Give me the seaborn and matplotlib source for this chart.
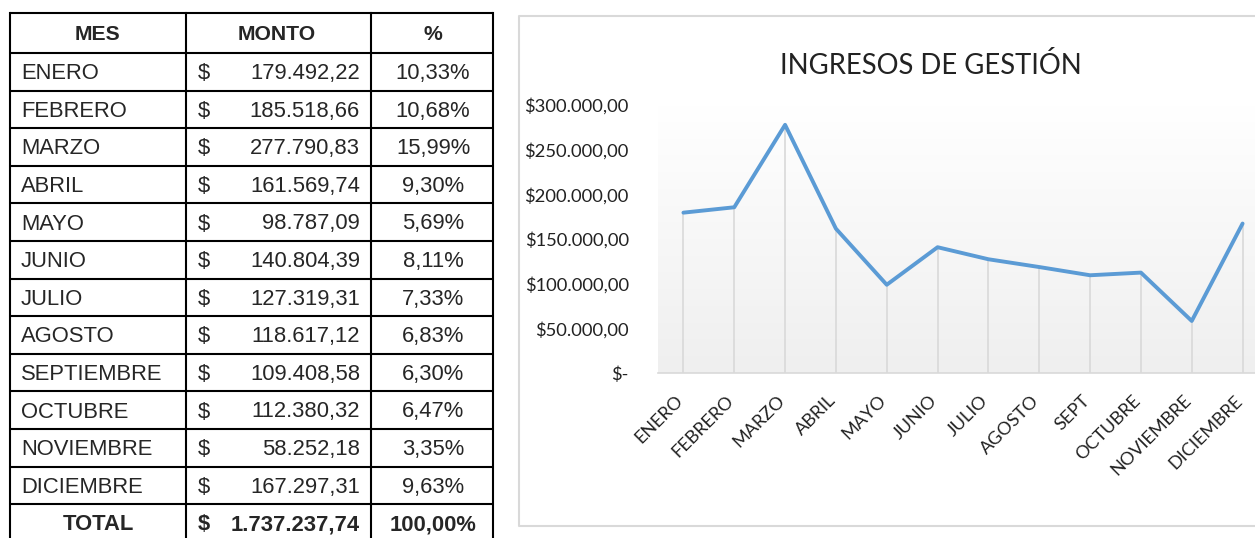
import numpy as np
import pandas as pd
import matplotlib
matplotlib.use("Agg")
import matplotlib.pyplot as plt
import matplotlib.transforms as mtransforms
import seaborn as sns
from matplotlib.colors import LinearSegmentedColormap
from matplotlib.ticker import FuncFormatter

# data
meses = ['ENERO', 'FEBRERO', 'MARZO', 'ABRIL', 'MAYO', 'JUNIO', 'JULIO',
         'AGOSTO', 'SEPTIEMBRE', 'OCTUBRE', 'NOVIEMBRE', 'DICIEMBRE']
etiquetas = ['ENERO', 'FEBRERO', 'MARZO', 'ABRIL', 'MAYO', 'JUNIO', 'JULIO',
             'AGOSTO', 'SEPT', 'OCTUBRE', 'NOVIEMBRE', 'DICIEMBRE']
montos = [179492.22, 185518.66, 277790.83, 161569.74, 98787.09, 140804.39,
          127319.31, 118617.12, 109408.58, 112380.32, 58252.18, 167297.31]
porcentajes = [10.33, 10.68, 15.99, 9.30, 5.69, 8.11, 7.33, 6.83, 6.30, 6.47, 3.35, 9.63]
total_monto = 1737237.74
total_pct = 100.00
y_ticks = [0, 50000, 100000, 150000, 200000, 250000, 300000]

df = pd.DataFrame({'mes': meses, 'monto': montos, 'pct': porcentajes})
df['pos'] = range(len(df))


def fmt_num(v, dec=2):
    s = f"{v:,.{dec}f}"
    return s.replace(',', '#').replace('.', ',').replace('#', '.')


sns.set_theme(style="white")
plt.rcParams['font.family'] = ['Liberation Sans', 'DejaVu Sans']

W, H = 1255, 538
fig = plt.figure(figsize=(W / 100, H / 100), dpi=100)

# ---- table (pixel coordinates) ----
bg = fig.add_axes([0, 0, 1, 1])
bg.set_xlim(0, W)
bg.set_ylim(H, 0)
bg.axis('off')

cols = [10, 186, 371, 493]
top, head_bot, row_h = 13, 53, 37.6
n_rows = len(df) + 1
bottom = head_bot + n_rows * row_h
lw_tab = 1.5
for x in cols:
    bg.plot([x, x], [top, bottom], color='black', lw=lw_tab, solid_capstyle='projecting')
bg.plot([cols[0], cols[-1]], [top, top], color='black', lw=lw_tab)
for i in range(n_rows + 1):
    y = head_bot + i * row_h
    bg.plot([cols[0], cols[-1]], [y, y], color='black', lw=lw_tab)

fs = 15.8
dy = 1.8
yc = (top + head_bot) / 2 + dy
bg.text(98, yc, 'MES', ha='center', va='center', fontsize=15.2, fontweight='bold')
bg.text(277, yc, 'MONTO', ha='center', va='center', fontsize=15.2, fontweight='bold')
bg.text(433, yc, '%', ha='center', va='center', fontsize=15.2, fontweight='bold')

for i, r in df.iterrows():
    yc = head_bot + (i + 0.5) * row_h + dy
    bg.text(21, yc, r['mes'], ha='left', va='center', fontsize=fs)
    bg.text(204, yc, '$', ha='center', va='center', fontsize=fs)
    bg.text(360, yc, fmt_num(r['monto']), ha='right', va='center', fontsize=fs)
    bg.text(433, yc, fmt_num(r['pct']) + '%', ha='center', va='center', fontsize=fs)

yc = head_bot + (len(df) + 0.5) * row_h + dy
bg.text(98, yc, 'TOTAL', ha='center', va='center', fontsize=fs, fontweight='bold')
bg.text(204, yc, '$', ha='center', va='center', fontsize=fs, fontweight='bold')
bg.text(360, yc, fmt_num(total_monto), ha='right', va='center', fontsize=fs, fontweight='bold')
bg.text(433, yc, fmt_num(total_pct) + '%', ha='center', va='center', fontsize=fs, fontweight='bold')

# chart frame
frame_col = '#d9d9d9'
bg.plot([1300, 519, 519, 1300], [15.5, 15.5, 525.5, 525.5], color=frame_col, lw=1.5)

# ---- line chart ----
chart_font = ['Lato', 'DejaVu Sans']
ax = fig.add_axes([658 / W, 1 - 373 / H, 610 / W, 268 / H])

grad = LinearSegmentedColormap.from_list('grad', ['#ffffff', '#efefef'])
ax.imshow(np.linspace(0, 1, 256).reshape(-1, 1), cmap=grad, aspect='auto',
          extent=(-0.5, len(df) - 0.5, 0, 300000), origin='upper', zorder=0)

ax.vlines(df['pos'], 0, df['monto'], color='#d9d9d9', lw=1.2, zorder=1)
sns.lineplot(data=df, x='pos', y='monto', ax=ax, color='#5B9BD5', lw=2.8, zorder=3)
ax.set_xlim(-0.5, len(df) - 0.5)
ax.set_ylim(0, 300000)

for s in ['left', 'top', 'right']:
    ax.spines[s].set_visible(False)
ax.spines['bottom'].set_color('#d9d9d9')
ax.spines['bottom'].set_linewidth(1.2)

ax.set_yticks(y_ticks)
ax.yaxis.set_major_formatter(FuncFormatter(lambda v, p: '$-' if v == 0 else '$' + fmt_num(v)))
ax.set_xticks(df['pos'])
ax.set_xticklabels(etiquetas, rotation=45, ha='right', va='center', rotation_mode='anchor')
ax.tick_params(axis='y', length=0, pad=21, labelsize=13.2, labelcolor='#222222')
ax.tick_params(axis='x', length=0, pad=18, labelsize=13.1, labelcolor='#222222')
shift = mtransforms.ScaledTranslation(-3 / 100, 0, fig.dpi_scale_trans)
for lab in ax.get_xticklabels():
    lab.set_family(chart_font)
    lab.set_transform(lab.get_transform() + shift)
for lab in ax.get_yticklabels():
    lab.set_family(chart_font)
ax.set_xlabel('')
ax.set_ylabel('')
ax.grid(False)

fig.text(931 / W, 1 - 65 / H, 'INGRESOS DE GESTIÓN', ha='center', va='center',
         fontsize=19.8, family=chart_font, color='#222222')

fig.savefig('out.png', dpi=100)
